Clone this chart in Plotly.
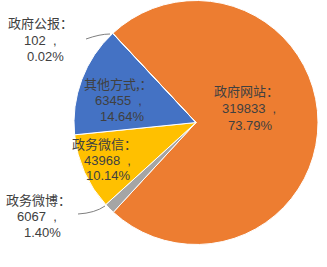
import plotly.graph_objects as go

# Data
names = ["政府网站", "政务微博", "政务微信", "其他方式", "政府公报"]
headings = ["政府网站：", "政务微博：", "政务微信：", "其他方式,：", "政府公报："]
values = [319833, 6067, 43968, 63455, 102]
percents = ["73.79%", "1.40%", "10.14%", "14.64%", "0.02%"]
colors = ["#ED7D31", "#A5A5A5", "#FFC000", "#4472C4", "#5B9BD5"]

W, H = 327, 267

def px(x):
    return x / W

def py(y):
    return 1 - y / H

fig = go.Figure()
fig.add_trace(go.Pie(
    labels=names,
    values=values,
    sort=False,
    direction="clockwise",
    rotation=-43,
    marker=dict(colors=colors, line=dict(color="white", width=1)),
    textinfo="none",
    hoverinfo="label+value+percent",
    showlegend=False,
    domain=dict(x=[px(74), px(318)], y=[py(244.5), py(0.5)]),
))

# label positions (pixel centre of each line)
label_pos = {
    "政府网站": [(246, 91), (249, 108), (250, 125)],
    "政务微博": [(38, 199), (37, 216), (42, 232)],
    "政务微信": [(104, 143), (107, 160), (108, 176)],
    "其他方式": [(118, 83), (118, 100), (122, 117)],
    "政府公报": [(41, 23), (40, 40), (45, 57)],
}

cjk_font = dict(family="Noto Sans CJK SC", size=13, color="#404040")
num_font = dict(family="Liberation Sans", size=13, color="#404040")
for n, h, v, p in zip(names, headings, values, percents):
    lines = [(h, cjk_font), (f"{v}  ,", num_font), (p, num_font)]
    for (t, f), (x, y) in zip(lines, label_pos[n]):
        fig.add_annotation(
            x=px(x), y=py(y), xref="paper", yref="paper",
            text=t, showarrow=False, xanchor="center", yanchor="middle",
            borderpad=0, font=f,
        )

# leader lines
fig.add_shape(type="path", xref="paper", yref="paper",
              path=f"M {px(86)} {py(39)} Q {px(100)} {py(34)} {px(110)} {py(34)}",
              line=dict(color="#7F7F7F", width=1))
fig.add_shape(type="path", xref="paper", yref="paper",
              path=f"M {px(78)} {py(214)} Q {px(95)} {py(213)} {px(105)} {py(206)}",
              line=dict(color="#7F7F7F", width=1))

fig.update_layout(
    width=W, height=H,
    margin=dict(l=0, r=0, t=0, b=0),
    paper_bgcolor="white",
    plot_bgcolor="white",
)

fig.write_html("out.html")
